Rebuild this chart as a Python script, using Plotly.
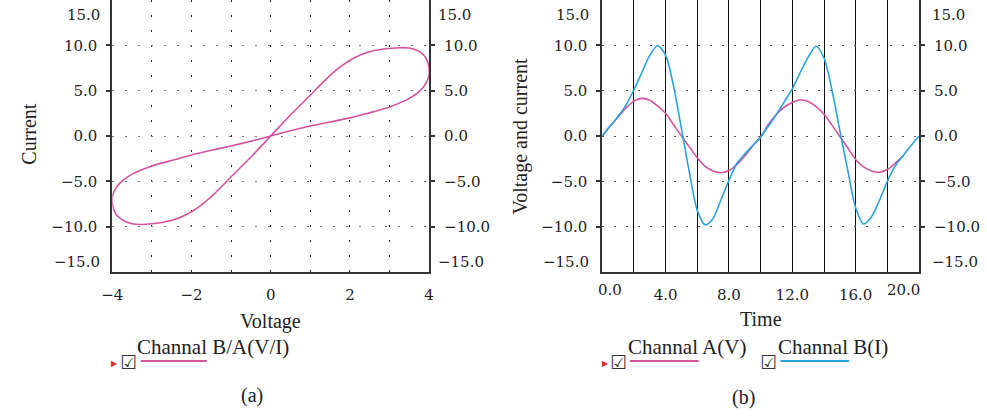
import plotly.graph_objects as go

# ---------------- data ----------------
loop_voltage = [0.0, 0.45, 1.0, 1.5, 2.0, 2.43, 3.0, 3.5, 3.75, 3.92, 4.0, 4.0, 3.92, 3.75, 3.5, 3.26,
                2.84, 2.43, 2.1, 1.77, 1.44, 1.0, 0.45, 0.0, -0.45, -1.0, -1.44, -1.77, -2.1, -2.43,
                -2.84, -3.26, -3.5, -3.75, -3.92, -4.0, -4.0, -3.92, -3.75, -3.5, -3.0, -2.43, -2.0,
                -1.5, -1.0, -0.45, 0.0]
loop_current = [0.0, 0.52, 1.1, 1.55, 2.0, 2.48, 3.2, 4.15, 4.9, 5.8, 6.74, 7.5, 8.6, 9.33, 9.7, 9.74,
                9.6, 9.22, 8.6, 7.67, 6.44, 4.5, 2.1, 0.0, -2.1, -4.5, -6.44, -7.67, -8.6, -9.22,
                -9.6, -9.76, -9.68, -9.25, -8.55, -7.4, -6.7, -5.8, -4.95, -4.2, -3.3, -2.62, -2.1,
                -1.58, -1.1, -0.52, 0.0]

time_a = [0.0, 0.5, 1.0, 1.5, 2.0, 2.5, 3.0, 3.5, 4.0, 4.5, 5.0, 5.5, 6.0, 6.5, 7.0, 7.5, 8.0, 8.5, 9.0, 9.5,
          10.0, 10.5, 11.0, 11.5, 12.0, 12.5, 13.0, 13.5, 14.0, 14.5, 15.0, 15.5, 16.0, 16.5, 17.0, 17.5,
          18.0, 18.5, 19.0]
voltage_a = [0.0, 1.1, 2.1, 3.1, 3.85, 4.15, 3.95, 3.3, 2.5, 1.25, 0.0, -1.2, -2.4, -3.35, -3.85, -4.05,
             -3.8, -3.15, -2.2, -1.1, -0.1, 1.3, 2.4, 3.2, 3.7, 4.0, 3.8, 3.25, 2.4, 1.2, -0.05, -1.3, -2.6,
             -3.4, -3.85, -4.0, -3.7, -3.0, -2.2]

time_b = [0.0, 0.5, 1.0, 1.5, 2.0, 2.5, 3.0, 3.5, 4.0, 4.5, 5.0, 5.5, 6.0, 6.5, 7.0, 7.5, 8.0, 8.5, 9.0, 9.5,
          10.0, 10.5, 11.0, 11.5, 12.0, 12.5, 13.0, 13.5, 14.0, 14.5, 15.0, 15.5, 16.0, 16.5, 17.0, 17.5,
          18.0, 18.5, 19.0, 19.5, 20.0]
current_b = [0.0, 1.1, 2.15, 3.4, 5.1, 7.0, 8.9, 9.95, 8.9, 5.5, 0.8, -4.0, -8.2, -9.8, -9.1, -7.0, -4.9,
             -3.0, -2.0, -1.05, -0.1, 1.1, 2.4, 3.8, 5.2, 7.0, 8.7, 9.9, 8.6, 5.1, 0.6, -3.8, -7.9, -9.7,
             -8.9, -7.1, -5.0, -3.3, -2.15, -1.05, 0.0]

y_ticks = [-10, -5, 0, 5, 10]
y_tick_text = ["\u221210.0", "\u22125.0", "0.0", "5.0", "10.0"]
y_edge_text = ["15.0", "\u221215.0"]
left_x_ticks = [-4, -2, 0, 2, 4]
left_x_text = ["\u22124", "\u22122", "0", "2", "4"]
right_x_ticks = [4, 8, 12, 16]
right_x_text = ["4.0", "8.0", "12.0", "16.0"]
right_x_edge_text = ["0.0", "20.0"]

legend_a = "Channal B/A(V/I)"
legend_v = "Channal A(V)"
legend_i = "Channal B(I)"

# ---------------- style ----------------
W, H = 987, 417
PINK = "#d4539c"
BLUE = "#2aa3dc"
AX = "#333333"
SERIF = "Liberation Serif"
TICKFAM = "DejaVu Serif"
TICKSIZE = 15
TICKFONT = dict(family=TICKFAM, size=TICKSIZE, color="#222")


def px(x):
    return x / W


def py(y):
    return 1 - y / H


ydom = [py(272), 1.0]
left_dom = [px(103), px(425)]
right_dom = [px(601), px(923)]

fig = go.Figure()
fig.add_trace(go.Scatter(x=loop_voltage, y=loop_current, mode="lines", xaxis="x", yaxis="y",
                         line=dict(color=PINK, width=1.6, shape="spline", smoothing=0.7),
                         showlegend=False, hoverinfo="skip"))
fig.add_trace(go.Scatter(x=time_a, y=voltage_a, mode="lines", xaxis="x2", yaxis="y3",
                         line=dict(color=PINK, width=1.6, shape="spline", smoothing=0.8),
                         showlegend=False, hoverinfo="skip"))
fig.add_trace(go.Scatter(x=time_b, y=current_b, mode="lines", xaxis="x2", yaxis="y3",
                         line=dict(color=BLUE, width=1.6, shape="spline", smoothing=0.8),
                         showlegend=False, hoverinfo="skip"))
# empty traces so that the right-hand mirror axes are drawn
fig.add_trace(go.Scatter(x=[None], y=[None], xaxis="x", yaxis="y2", mode="lines",
                         showlegend=False, hoverinfo="skip"))
fig.add_trace(go.Scatter(x=[None], y=[None], xaxis="x2", yaxis="y4", mode="lines",
                         showlegend=False, hoverinfo="skip"))

ybase = dict(range=[-15, 15], domain=ydom, tickmode="array", tickvals=y_ticks, ticktext=y_tick_text,
             ticks="outside", ticklen=4, tickcolor=AX, tickwidth=1.5, showline=True, linecolor=AX,
             linewidth=2, zeroline=False, tickfont=TICKFONT, ticklabelstandoff=6, fixedrange=True,
             autorange=False)

fig.update_layout(
    width=W, height=H, margin=dict(l=0, r=0, t=0, b=0),
    paper_bgcolor="white", plot_bgcolor="white",
    xaxis=dict(domain=left_dom, anchor="y", range=[-4, 4], autorange=False, tickmode="array",
               tickvals=left_x_ticks, ticktext=left_x_text, ticks="", showline=True, linecolor=AX,
               linewidth=2, zeroline=False,
               showgrid=True, gridcolor="#222", gridwidth=1.3, griddash="1.5px,13.5px",
               minor=dict(tickmode="linear", tick0=-4, dtick=1, showgrid=True, gridcolor="#222",
                          gridwidth=1.3, griddash="1.5px,13.5px"),
               tickfont=TICKFONT, ticklabelstandoff=8),
    yaxis=dict(**ybase, anchor="x", side="left", showgrid=True, gridcolor="#777", gridwidth=1.3,
               griddash="1.5px,11.5px"),
    yaxis2=dict(**ybase, anchor="x", overlaying="y", side="right", showgrid=False),
    xaxis2=dict(domain=right_dom, anchor="y3", range=[0, 20], autorange=False, tickmode="array",
                tickvals=right_x_ticks, ticktext=right_x_text, ticks="", showline=True, linecolor=AX,
                linewidth=2, zeroline=False,
                showgrid=True, gridcolor="#111", gridwidth=1.1,
                minor=dict(tickmode="linear", tick0=0, dtick=2, showgrid=True, gridcolor="#111", gridwidth=1.1),
                tickfont=TICKFONT, ticklabelstandoff=8),
    yaxis3=dict(**ybase, anchor="x2", side="left", showgrid=True, gridcolor="#555", gridwidth=1.3,
                griddash="1.5px,10.5px"),
    yaxis4=dict(**ybase, anchor="x2", overlaying="y3", side="right", showgrid=False),
)

ann = []


def text(t, x, y, size=20, xanchor="center", yanchor="middle", angle=0, family=SERIF, color="#222",
         italic=False):
    ann.append(dict(text=t, x=px(x), y=py(y), xref="paper", yref="paper", showarrow=False,
                    xanchor=xanchor, yanchor=yanchor, textangle=angle,
                    font=dict(family=family, size=size, color=color,
                              style="italic" if italic else "normal")))


# edge tick labels (drawn inward, as in the reference)
for xl, xr in [(92, 432), (590, 934)]:
    text(y_edge_text[0], xl, 15, size=TICKSIZE, xanchor="right", family=TICKFAM)
    text(y_edge_text[1], xl, 262, size=TICKSIZE, xanchor="right", family=TICKFAM)
    text(y_edge_text[0], xr, 15, size=TICKSIZE, xanchor="left", family=TICKFAM)
    text(y_edge_text[1], xr, 262, size=TICKSIZE, xanchor="left", family=TICKFAM)
text(right_x_edge_text[0], 609, 290, size=TICKSIZE, family=TICKFAM)
text(right_x_edge_text[1], 907, 290, size=TICKSIZE, family=TICKFAM)

# axis titles
text("Current", 18, 134, angle=-90)
text("Voltage and current", 517, 136, angle=-90)
text("Voltage", 264, 321)
text("Time", 762, 319)

# legends
shapes = []
for tx, cx in [(105, 119.5), (604, 617.5)]:
    text("\u25B6", tx, 363, size=8, family="DejaVu Sans", color="#e3262f")
    text("\u2611", cx, 361.5, size=19, family="DejaVu Sans", color="#333")
text("\u2611", 769.5, 361.5, size=19, family="DejaVu Sans", color="#333")
text(legend_a, 126, 347, size=21, xanchor="left")
text(legend_v, 625, 347, size=21, xanchor="left")
text(legend_i, 778, 347, size=21, xanchor="left")
for x0, x1, c in [(132, 199, PINK), (629, 699, PINK), (782, 852, BLUE)]:
    shapes.append(dict(type="line", xref="paper", yref="paper", x0=px(x0), x1=px(x1), y0=py(361), y1=py(361),
                       line=dict(color=c, width=2)))

# panel labels
text("(a)", 245, 395)
text("(b)", 745, 397)

# caption line (cut off at the bottom edge in the reference)
text("Figure 5: Simulation result of the memristor: (a) hysteresis loop and (b) voltage and current.",
     520, 426, size=19, italic=True)

fig.update_layout(annotations=ann, shapes=shapes)
fig.write_html("out.html")
